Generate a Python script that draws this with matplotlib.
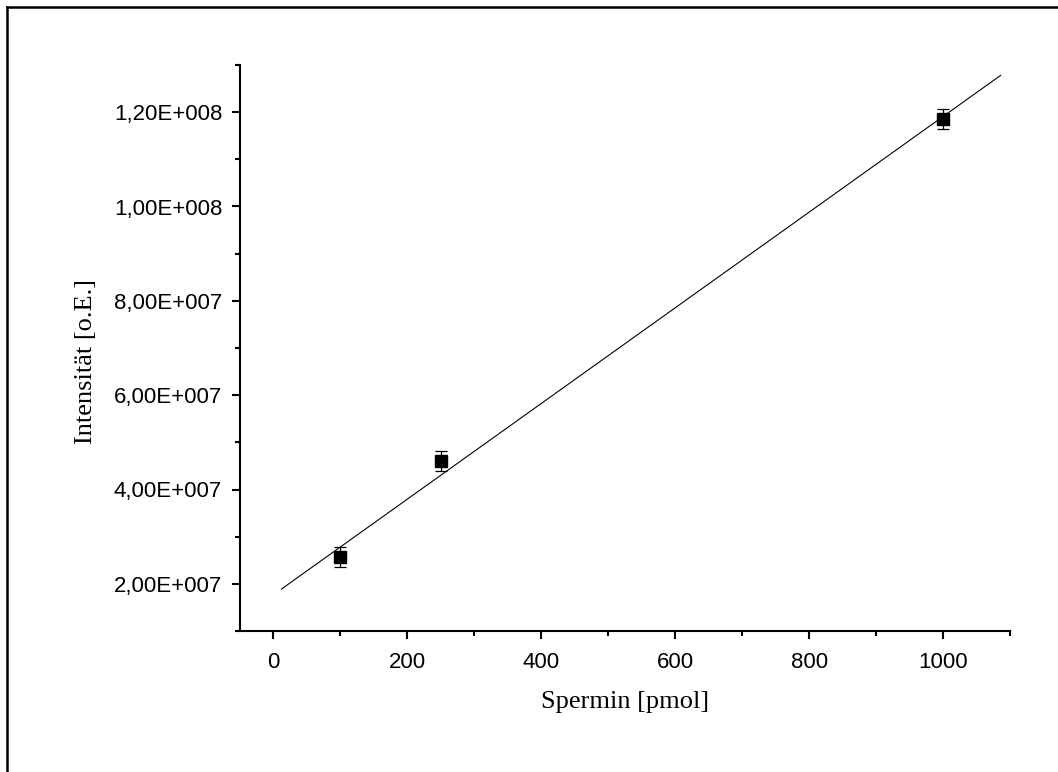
import matplotlib
matplotlib.use("Agg")
import matplotlib.pyplot as plt
from matplotlib.ticker import MultipleLocator, FuncFormatter
from matplotlib.lines import Line2D
import numpy as np

# data
spermin = [100, 250, 1000]
intensity = [2.57e7, 4.60e7, 1.185e8]
intensity_err = [2.1e6, 2.1e6, 2.1e6]

# linear fit line as drawn (end points)
fit_x = [12, 1086]
fit_y = [1.89e7, 1.278e8]

xlabel = "Spermin [pmol]"
ylabel = "Intensität [o.E.]"


def origin_fmt(v, pos):
    if v == 0:
        return "0"
    exp = int(np.floor(np.log10(abs(v))))
    mant = v / 10 ** exp
    return ("%.2f" % mant).replace(".", ",") + "E+%03d" % exp


fig = plt.figure(figsize=(10.58, 7.72), dpi=100)
ax = fig.add_axes([240 / 1058, 1 - 631 / 772, 770 / 1058, 566 / 772])

ax.plot(fit_x, fit_y, color="black", lw=0.8)
ax.errorbar(spermin, intensity, yerr=intensity_err, fmt="s", color="black",
            ms=8.5, capsize=4.3, elinewidth=0.9, capthick=0.9)

ax.set_xlim(-50, 1100)
ax.set_ylim(1e7, 1.3e8)

ax.xaxis.set_major_locator(MultipleLocator(200))
ax.xaxis.set_minor_locator(MultipleLocator(100))
ax.yaxis.set_major_locator(MultipleLocator(2e7))
ax.yaxis.set_minor_locator(MultipleLocator(1e7))
ax.yaxis.set_major_formatter(FuncFormatter(origin_fmt))

for s in ["top", "right"]:
    ax.spines[s].set_visible(False)
for s in ["left", "bottom"]:
    ax.spines[s].set_linewidth(1.5)

ax.tick_params(which="major", direction="out", length=5.8, width=1.5,
               labelsize=16, labelfontfamily="Liberation Sans")
ax.tick_params(which="minor", direction="out", length=3.6, width=1.5)
ax.tick_params(axis="x", pad=9)
ax.tick_params(axis="y", pad=7)

ax.set_xlabel(xlabel, fontsize=19, family="Liberation Serif", labelpad=13)
ax.set_ylabel(ylabel, fontsize=19, family="Liberation Serif", labelpad=12,
              y=0.477)

# frame around the picture (left and top only visible)
fig.add_artist(Line2D([7 / 1058, 7 / 1058], [0, 1 - 7 / 772],
                      transform=fig.transFigure, color="black", lw=1.8))
fig.add_artist(Line2D([7 / 1058, 1], [1 - 7 / 772, 1 - 7 / 772],
                      transform=fig.transFigure, color="black", lw=1.8))

fig.savefig("out.png", dpi=100)
